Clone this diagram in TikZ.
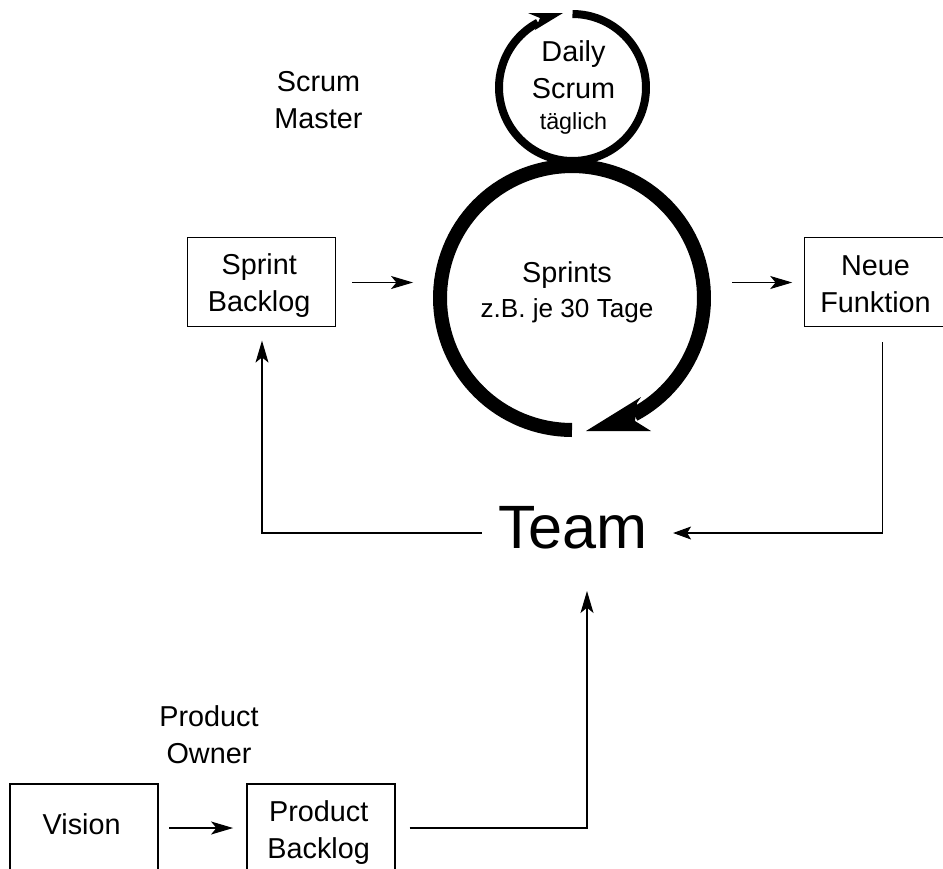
\documentclass[tikz,border=0pt]{standalone}
\usepackage{fontspec}
\setmainfont{Liberation Sans}
\usetikzlibrary{arrows.meta}
\newcommand{\tl}{\rule[-3pt]{0pt}{24pt}}
\newcommand{\rp}{\hspace*{3.5pt}}
\tikzset{
  x=0.75pt,y=-0.75pt,
  box/.style={draw=black,line width=0.9pt,inner sep=0pt,align=center,minimum width=111pt,minimum height=66.75pt,font=\fontsize{21.6pt}{27.75pt}\selectfont},
  lab/.style={inner sep=0pt,align=center,font=\fontsize{21.6pt}{27.75pt}\selectfont},
  ringnode/.style={circle,inner sep=0pt},
  conn/.style={line width=0.8pt,-{Stealth[length=16.5pt,width=9.75pt,inset=4pt]}},
  connb/.style={line width=0.8pt,-{Stealth[length=13.5pt,width=9.75pt,inset=3pt]}},
}
\begin{document}
\begin{tikzpicture}
\useasboundingbox (0,0) rectangle (943,868);
\clip (0,0) rectangle (943,868);
% free-end guides
\coordinate (ty) at (0,533);
\coordinate (sx) at (262,0);
\coordinate (nx) at (882.5,0);
\coordinate (hy) at (0,828);
\coordinate (sy) at (0,282.5);
\coordinate (teamin) at (587,591);
% rings
\node[ringnode,minimum size=210pt] (ring) at (572,298) {};
\node[ringnode,minimum size=116pt] (small) at (572.5,87.5) {};
\draw[line width=6pt] plot[domain=-90:242,samples=120] ({572.5+73.5*cos(\x)},{87.5+73.5*sin(\x)});
\fill (563,13) -- (528,13) -- (540,18) -- (535,30) -- cycle;
\draw[line width=10.5pt] plot[domain=90:422,samples=120] ({572+132*cos(\x)},{298+132*sin(\x)});
\fill (586,431) -- (641,397) -- (637,403) -- (635,421) -- (651,431) -- cycle;
% boxes
\node[box] (sprint) at (261.5,282.2) {\tl Sprint\rp\\\tl Backlog\rp};
\node[box,minimum width=106pt] (neue) at (875.5,282.2) {\tl Neue\\\tl Funktion};
\node[box] (vision) at (84,828.5) {\rule[-7.25pt]{0pt}{20pt}Vision\rp};
\node[box] (pb) at (321,828.5) {\tl Product\rp\\\tl Backlog\rp};
% labels
\node[lab] (sm) at (318.5,98) {\tl Scrum\\\tl Master};
\node[lab] (po) at (209,733) {\tl Product\\\tl Owner};
\node[lab,font=\fontsize{45.9pt}{46pt}\selectfont,anchor=base] (team) at (573,548) {Team};
\node[lab,anchor=base] (sprints) at (567,282) {Sprints};
\node[lab,font=\fontsize{19.6pt}{20pt}\selectfont,anchor=base] (sub) at (567,317) {z.B. je 30 Tage};
\node[lab] (ds) at (573.5,68) {\tl Daily\\\tl Scrum};
\node[lab,font=\fontsize{17.5pt}{20pt}\selectfont,anchor=base] (tg) at (573.5,129.5) {täglich};
% connectors
\draw[conn,shorten <=12pt,shorten >=14pt] (sprint.east |- sy) -- (ring.west |- sy);
\draw[conn,shorten <=15pt,shorten >=9pt] (ring.east |- sy) -- (neue.west |- sy);
\draw[conn,shorten <=8pt,shorten >=10pt] (vision.east |- hy) -- (pb.west |- hy);
\draw[conn,shorten <=10.5pt] (pb.east |- hy) -| (teamin);
\draw[connb,shorten <=11.25pt,shorten >=18.75pt] (neue.south -| nx) |- (team.east |- ty);
\draw[conn,shorten <=12pt,shorten >=10pt] (team.west |- ty) -| (sprint.south -| sx);
\end{tikzpicture}
\end{document}
